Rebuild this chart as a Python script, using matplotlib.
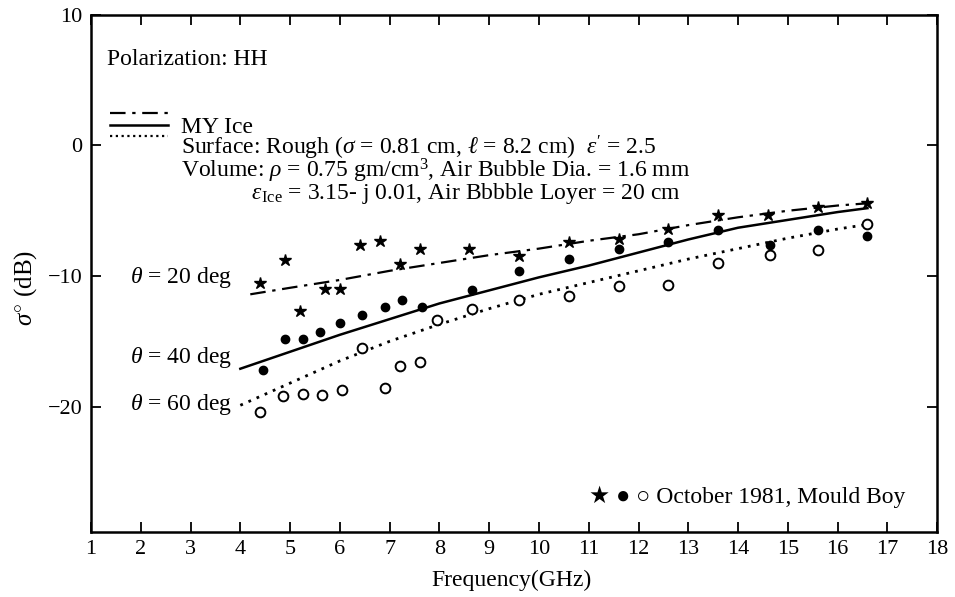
import matplotlib
matplotlib.use("Agg")
import matplotlib.pyplot as plt

# measured data (October 1981, Mould Bay), sigma0 in dB
star_freq = [4.4, 4.9, 5.2, 5.7, 6.0, 6.4, 6.8, 7.2, 7.6, 8.6, 9.6, 10.6, 11.6, 12.6, 13.6, 14.6, 15.6, 16.6]
star_db = [-10.5, -8.8, -12.7, -11.0, -11.0, -7.6, -7.3, -9.1, -7.9, -7.9, -8.5, -7.4, -7.2, -6.4, -5.3, -5.3, -4.7, -4.4]

dot_freq = [4.45, 4.9, 5.25, 5.6, 6.0, 6.45, 6.9, 7.25, 7.65, 8.65, 9.6, 10.6, 11.6, 12.6, 13.6, 14.65, 15.6, 16.6]
dot_db = [-17.2, -14.8, -14.8, -14.3, -13.6, -13.0, -12.4, -11.8, -12.4, -11.1, -9.6, -8.7, -7.9, -7.4, -6.5, -7.6, -6.5, -6.9]

open_freq = [4.4, 4.85, 5.25, 5.65, 6.05, 6.45, 6.9, 7.2, 7.6, 7.95, 8.65, 9.6, 10.6, 11.6, 12.6, 13.6, 14.65, 15.6, 16.6]
open_db = [-20.4, -19.2, -19.0, -19.1, -18.7, -15.5, -18.6, -16.9, -16.6, -13.4, -12.5, -11.8, -11.5, -10.8, -10.7, -9.0, -8.4, -8.0, -6.0]

# model curves
theta20_freq = [4.2, 5, 6, 7, 8, 9, 10, 11, 12, 13, 14, 15, 16, 16.7]
theta20_db = [-11.4, -10.9, -10.3, -9.6, -9.0, -8.4, -7.9, -7.3, -6.8, -6.1, -5.5, -5.0, -4.6, -4.4]

theta40_freq = [4.0, 5, 6, 7, 8, 9, 10, 11, 12, 13, 14, 15, 16, 16.6]
theta40_db = [-17.1, -15.8, -14.5, -13.3, -12.1, -11.1, -10.1, -9.2, -8.2, -7.2, -6.3, -5.7, -5.1, -4.8]

theta60_freq = [4.0, 5, 6, 7, 8, 9, 10, 11, 12, 13, 14, 15, 16, 16.6]
theta60_db = [-19.9, -18.2, -16.5, -15.0, -13.7, -12.5, -11.4, -10.5, -9.6, -8.7, -7.9, -7.1, -6.4, -6.05]

x_ticks = list(range(1, 19))
y_ticks = [-20, -10, 0, 10]

plt.rcParams['font.family'] = ['Liberation Serif', 'DejaVu Serif', 'DejaVu Sans']
plt.rcParams['mathtext.fontset'] = 'custom'
plt.rcParams['mathtext.rm'] = 'Liberation Serif'
plt.rcParams['mathtext.it'] = 'Liberation Serif:italic'
plt.rcParams['axes.unicode_minus'] = True

DASHDOT = (0, (7, 3, 1.5, 3))
DOTTED = (0, (1, 2.2))
FS = 17  # annotation font size

fig = plt.figure(figsize=(9.55, 5.97), dpi=100)
ax = fig.add_axes([0.0953, 0.109, 0.886, 0.866])

ax.plot(theta20_freq, theta20_db, color='black', lw=1.6, linestyle=DASHDOT)
ax.plot(theta40_freq, theta40_db, color='black', lw=1.8, linestyle='-')
ax.plot(theta60_freq, theta60_db, color='black', lw=2.0, linestyle=DOTTED)

ax.plot(star_freq, star_db, '*', color='black', markersize=9, linestyle='none')
ax.plot(dot_freq, dot_db, 'o', color='black', markersize=6, linestyle='none')
ax.plot(open_freq, open_db, 'o', markerfacecolor='white', markeredgecolor='black',
        markeredgewidth=1.4, markersize=7, linestyle='none')

ax.set_xlim(1, 18)
ax.set_ylim(-29.6, 10)
ax.set_xticks(x_ticks)
ax.set_yticks(y_ticks)
ax.tick_params(direction='in', top=True, right=True, length=7, width=1.3, labelsize=16, pad=6)
for s in ax.spines.values():
    s.set_linewidth(1.8)

ax.set_xlabel('Frequency(GHz)', fontsize=FS)
ax.xaxis.set_label_coords(0.497, -0.074)
ax.set_ylabel(r'$\sigma^{\circ}$ (dB)', fontsize=18)
ax.yaxis.set_label_coords(-0.061, 0.472)

# legend keys for the model lines
ax.plot([0.022, 0.091], [0.810, 0.810], transform=ax.transAxes, color='black', lw=1.6, linestyle=DASHDOT)
ax.plot([0.022, 0.091], [0.787, 0.787], transform=ax.transAxes, color='black', lw=1.8)
ax.plot([0.022, 0.091], [0.766, 0.766], transform=ax.transAxes, color='black', lw=1.6,
        linestyle=(0, (1, 1.6)))

ax.text(0.019, 0.913, 'Polarization: HH', transform=ax.transAxes, fontsize=FS, va='center')

model_info = ("MY Ice\n"
              r"Surface: Rough ($\sigma$ = 0.81 cm, $\ell$ = 8.2 cm)  $\epsilon'$ = 2.5" + "\n"
              r"Volume: $\rho$ = 0.75 gm/cm$^3$, Air Bubble Dia. = 1.6 mm" + "\n"
              r"            $\epsilon_{\rm Ice}$ = 3.15- j 0.01, Air Bbbble Loyer = 20 cm")
ax.text(0.106, 0.716, model_info, transform=ax.transAxes, fontsize=FS, va='center',
        linespacing=0.78)

ax.text(0.167, 0.493, r'$\theta$ = 20 deg', transform=ax.transAxes, fontsize=FS, va='center', ha='right')
ax.text(0.167, 0.338, r'$\theta$ = 40 deg', transform=ax.transAxes, fontsize=FS, va='center', ha='right')
ax.text(0.167, 0.246, r'$\theta$ = 60 deg', transform=ax.transAxes, fontsize=FS, va='center', ha='right')

ax.text(0.962, 0.068, '★ ● ○ October 1981, Mould Boy', transform=ax.transAxes, fontsize=FS,
        va='center', ha='right', family=['Liberation Serif', 'DejaVu Sans'])

fig.savefig('out.png', dpi=100)
